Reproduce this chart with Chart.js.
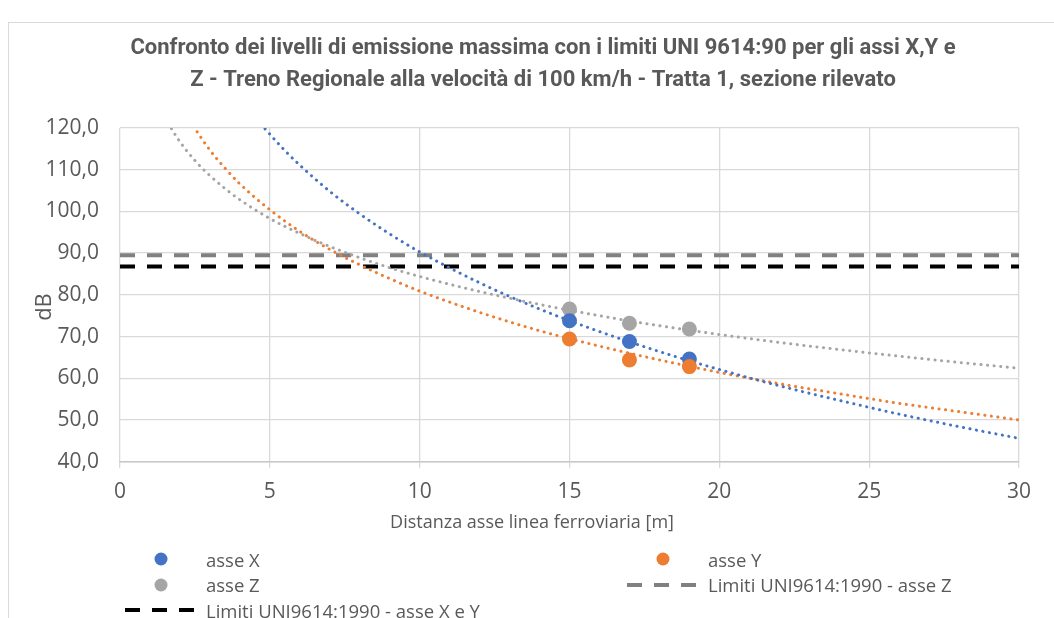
<!DOCTYPE html>
<html lang="it">
<head>
    <meta charset="UTF-8">
    <title>Confronto livelli di emissione</title>
    <script src="https://cdn.jsdelivr.net/npm/chart.js"></script>
    <style>
        body { margin: 0; background: #fff; overflow: hidden; width: 1054px; height: 618px; position: relative; }
        .frame { position: absolute; left: 8px; top: 22px; width: 2000px; height: 2000px; border-left: 1.5px solid #d9d9d9; border-top: 1.5px solid #d9d9d9; }
        .chart-box { position: absolute; left: 0; top: 0; width: 1086px; height: 545px; }
        #legend { position: absolute; left: 0; top: 0; width: 1054px; height: 618px; pointer-events: none;
                  font-family: 'Open Sans', sans-serif; font-size: 18.5px; color: #595959; }
        #legend .item { position: absolute; height: 25px; display: flex; align-items: center; white-space: nowrap; }
        #legend svg { width: 70px; height: 20px; margin-right: 11px; flex: none; }
    </style>
</head>
<body>
    <div class="frame"></div>
    <div class="chart-box"><canvas id="emissionChart" width="1086" height="545"></canvas></div>
    <div id="legend"></div>

    <script>
    // Misure (dB) alle distanze rilevate
    const distances = [15, 17, 19];
    const asseX = [73.8, 68.8, 64.6];
    const asseY = [69.4, 64.4, 62.8];
    const asseZ = [76.6, 73.2, 71.8];

    // Limiti UNI9614:1990
    const limitDist = [0, 30];
    const limitZ = [89.5, 89.5];
    const limitXY = [86.8, 86.8];

    // Linee di tendenza
    const trendXDist = [4.84, 5.5, 6, 7, 8, 9, 10, 12, 14, 16, 18, 20, 22, 24, 26, 28, 30];
    const trendXVal = [119.8, 114.6, 111.1, 104.8, 99.4, 94.6, 90.3, 82.9, 76.6, 71.2, 66.4, 62.1, 58.2, 54.7, 51.4, 48.4, 45.6];
    const trendYDist = [2.45, 3, 3.5, 4, 5, 6, 7, 8, 9, 10, 12, 14, 16, 18, 20, 22, 24, 26, 28, 30];
    const trendYVal = [120.4, 114.7, 110.4, 106.6, 100.4, 95.2, 90.9, 87.2, 83.9, 80.9, 75.8, 71.4, 67.7, 64.4, 61.4, 58.7, 56.3, 54.0, 52.0, 50.0];
    const trendZDist = [1.6, 2, 2.5, 3, 3.5, 4, 5, 6, 7, 8, 9, 10, 12, 14, 16, 18, 20, 22, 24, 26, 28, 30];
    const trendZVal = [121.2, 116.7, 112.2, 108.6, 105.5, 102.8, 98.3, 94.7, 91.6, 88.9, 86.5, 84.4, 80.8, 77.7, 75.0, 72.6, 70.5, 68.6, 66.9, 65.3, 63.8, 62.4];

    const yTicks = [40, 50, 60, 70, 80, 90, 100, 110, 120];
    const xTicks = [0, 5, 10, 15, 20, 25, 30];

    const titleLines = [
        'Confronto dei livelli di emissione massima con i limiti UNI 9614:90 per gli assi X,Y e',
        'Z - Treno Regionale alla velocità di 100 km/h - Tratta 1, sezione rilevato'
    ];
    const xTitle = 'Distanza asse linea ferroviaria [m]';
    const yTitle = 'dB';

    const BLUE = '#4472c4', ORANGE = '#ed7d31', GREY = '#a5a5a5', DARKGREY = '#808080';

    function pts(xs, ys) {
        return xs.map((x, i) => ({ x: x, y: ys[i] }));
    }

    function pointSet(label, xs, ys, color, order) {
        return { label: label, data: pts(xs, ys), backgroundColor: color, borderColor: color,
                 pointRadius: 7.5, pointHoverRadius: 7.5, borderWidth: 0, showLine: false, order: order, legend: 'point' };
    }

    function trendSet(xs, ys, color) {
        return { label: '', data: pts(xs, ys), borderColor: color, backgroundColor: color,
                 showLine: true, pointRadius: 0, borderWidth: 3, borderDash: [0.1, 6.5], borderCapStyle: 'round',
                 cubicInterpolationMode: 'monotone', order: 3 };
    }

    function limitSet(label, xs, ys, color) {
        return { label: label, data: pts(xs, ys), borderColor: color, backgroundColor: color,
                 showLine: true, pointRadius: 0, borderWidth: 4, borderDash: [15, 12], order: 4, legend: 'line' };
    }

    // Legenda HTML a due colonne
    const htmlLegend = {
        id: 'htmlLegend',
        afterUpdate(chart) {
            const box = document.getElementById('legend');
            box.innerHTML = '';
            const items = chart.data.datasets.filter(ds => ds.legend);
            items.forEach((ds, i) => {
                const col = i % 2, row = Math.floor(i / 2);
                const el = document.createElement('div');
                el.className = 'item';
                el.style.left = (125 + col * 502) + 'px';
                el.style.top = (546.5 + row * 25.5) + 'px';
                let marker;
                if (ds.legend === 'point') {
                    marker = '<svg viewBox="0 0 70 20"><circle cx="36" cy="10" r="6.5" fill="' + ds.backgroundColor + '"/></svg>';
                } else {
                    marker = '<svg viewBox="0 0 70 20"><line x1="0" y1="10" x2="70" y2="10" stroke="' + ds.borderColor +
                             '" stroke-width="4" stroke-dasharray="15 12"/></svg>';
                }
                el.innerHTML = marker + '<span>' + ds.label + '</span>';
                box.appendChild(el);
            });
        }
    };

    // Titoli degli assi posizionati come nell'originale
    const axisTitles = {
        id: 'axisTitles',
        afterDraw(chart) {
            const ctx = chart.ctx;
            ctx.save();
            ctx.fillStyle = '#595959';
            ctx.textAlign = 'center';
            ctx.textBaseline = 'middle';
            ctx.font = '18px "Open Sans"';
            ctx.fillText(xTitle, 532, 523);
            ctx.translate(45, 307);
            ctx.rotate(-Math.PI / 2);
            ctx.font = '22px "Open Sans"';
            ctx.fillText(yTitle, 0, 0);
            ctx.restore();
        }
    };

    Chart.defaults.font.family = "'Open Sans', sans-serif";
    Chart.defaults.color = '#595959';

    new Chart(document.getElementById('emissionChart'), {
        type: 'scatter',
        data: {
            datasets: [
                pointSet('asse X', distances, asseX, BLUE, 1),
                pointSet('asse Y', distances, asseY, ORANGE, 0),
                pointSet('asse Z', distances, asseZ, GREY, 2),
                limitSet('Limiti UNI9614:1990 - asse Z', limitDist, limitZ, DARKGREY),
                limitSet('Limiti UNI9614:1990 - asse X e Y', limitDist, limitXY, '#000000'),
                trendSet(trendXDist, trendXVal, BLUE),
                trendSet(trendYDist, trendYVal, ORANGE),
                trendSet(trendZDist, trendZVal, GREY)
            ]
        },
        options: {
            responsive: false,
            animation: false,
            layout: { padding: 0 },
            plugins: {
                legend: { display: false },
                tooltip: { enabled: false },
                title: {
                    display: true,
                    text: titleLines,
                    color: '#595959',
                    font: { family: 'Roboto', size: 22, weight: 'bold', lineHeight: 1.45 },
                    padding: { top: 32.5, bottom: 31.7 }
                }
            },
            scales: {
                x: {
                    type: 'linear',
                    min: 0, max: 30,
                    afterBuildTicks: scale => { scale.ticks = xTicks.map(v => ({ value: v })); },
                    afterFit: scale => { scale.height = 83.3; },
                    ticks: { padding: 12, font: { size: 21 }, color: '#595959' },
                    grid: { color: '#d9d9d9', lineWidth: 1.3, drawTicks: true, tickLength: 6 },
                    border: { color: '#c8c8c8', width: 1.5 }
                },
                y: {
                    type: 'linear',
                    min: 40, max: 120,
                    afterBuildTicks: scale => { scale.ticks = yTicks.map(v => ({ value: v })); },
                    afterFit: scale => { scale.width = 120; },
                    ticks: {
                        padding: 21, font: { size: 21 }, color: '#595959',
                        callback: v => v.toFixed(1).replace('.', ',')
                    },
                    grid: { color: '#d9d9d9', lineWidth: 1.3, drawTicks: false },
                    border: { display: false }
                },
                // margine destro vuoto, come nel grafico originale
                yRight: {
                    type: 'linear',
                    position: 'right',
                    min: 40, max: 120,
                    afterFit: scale => { scale.width = 67; },
                    ticks: { display: false },
                    grid: { display: false },
                    border: { display: false }
                }
            }
        },
        plugins: [htmlLegend, axisTitles]
    });
    </script>
</body>
</html>
